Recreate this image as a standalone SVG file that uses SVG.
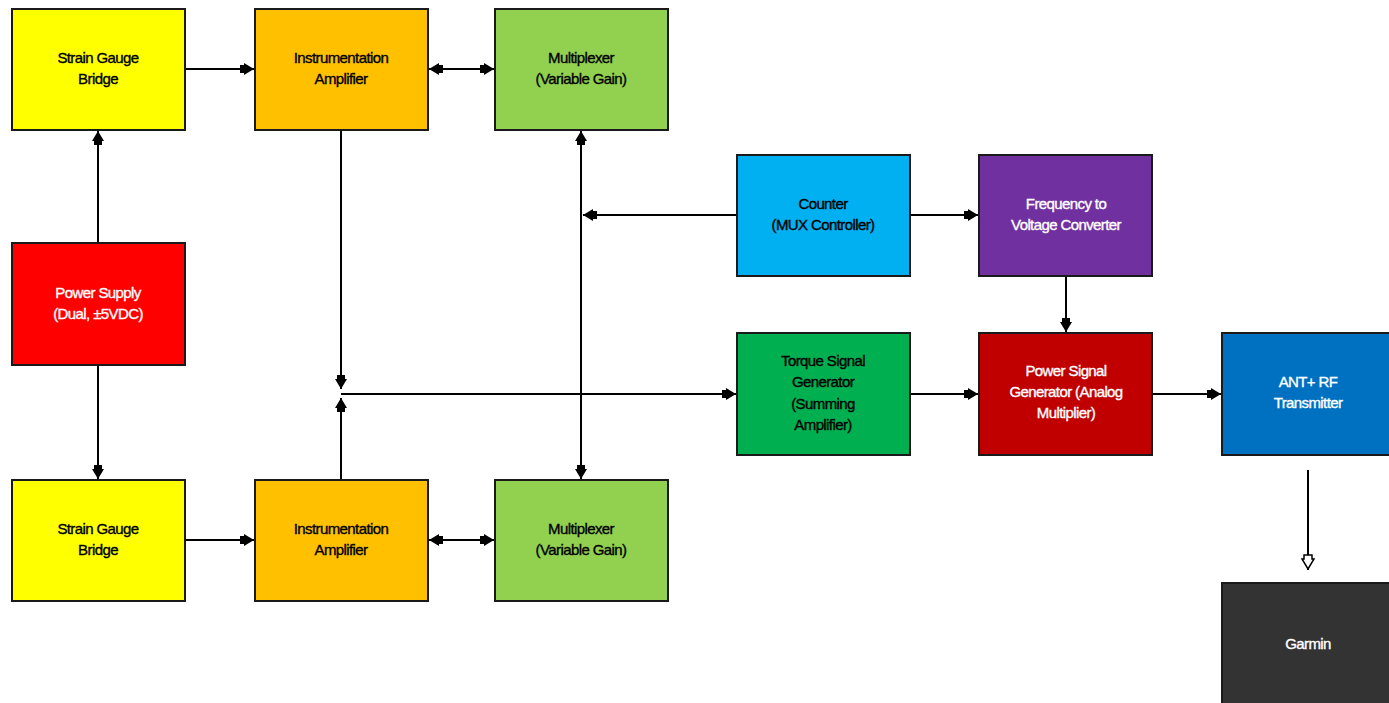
<svg xmlns="http://www.w3.org/2000/svg" width="1389" height="703" viewBox="0 0 1389 703">
<style>
.box{stroke:#1a1a1a;stroke-width:2}
.t{font-family:"Liberation Sans",Arial,sans-serif;font-size:15px;text-anchor:middle;letter-spacing:-0.6px;stroke-width:0.35px}
.dk{fill:#000;stroke:#000}
.wt{fill:#fff;stroke:#fff}
.c{stroke:#000;stroke-width:2;fill:none}
</style>
<defs>
<marker id="a" viewBox="0 0 14 12" refX="14" refY="6" markerWidth="14" markerHeight="12" markerUnits="userSpaceOnUse" orient="auto-start-reverse">
<path d="M0,2 L4,2 L4,0 L14,6 L4,12 L4,10 L0,10 Z" fill="#000"/>
</marker>
<marker id="h" viewBox="0 0 16 14" refX="16" refY="7" markerWidth="16" markerHeight="14" markerUnits="userSpaceOnUse" orient="auto">
<path d="M1,3 L5,3 L5,1 L15,7 L5,13 L5,11 L1,11 Z" fill="#fff" stroke="#000" stroke-width="1.5"/>
</marker>
</defs>
<rect width="1389" height="703" fill="#fff"/>
<g id="connectors">
<line class="c" x1="186" y1="69" x2="254" y2="69" marker-end="url(#a)"/>
<line class="c" x1="429" y1="69" x2="494" y2="69" marker-start="url(#a)" marker-end="url(#a)"/>
<line class="c" x1="98" y1="243" x2="98" y2="131" marker-end="url(#a)"/>
<line class="c" x1="98" y1="366" x2="98" y2="479" marker-end="url(#a)"/>
<line class="c" x1="341" y1="131" x2="341" y2="389" marker-end="url(#a)"/>
<line class="c" x1="341" y1="480" x2="341" y2="398" marker-end="url(#a)"/>
<line class="c" x1="341" y1="394" x2="736" y2="394" marker-end="url(#a)"/>
<line class="c" x1="581" y1="131" x2="581" y2="479" marker-start="url(#a)" marker-end="url(#a)"/>
<line class="c" x1="737" y1="215" x2="583" y2="215" marker-end="url(#a)"/>
<line class="c" x1="911" y1="215" x2="978" y2="215" marker-end="url(#a)"/>
<line class="c" x1="1066" y1="277" x2="1066" y2="332" marker-end="url(#a)"/>
<line class="c" x1="911" y1="394" x2="978" y2="394" marker-end="url(#a)"/>
<line class="c" x1="1153" y1="394" x2="1221" y2="394" marker-end="url(#a)"/>
<line class="c" x1="1308" y1="470" x2="1308" y2="570" marker-end="url(#h)"/>
<line class="c" x1="186" y1="540" x2="254" y2="540" marker-end="url(#a)"/>
<line class="c" x1="429" y1="540" x2="494" y2="540" marker-start="url(#a)" marker-end="url(#a)"/>
</g>
<g id="sgb1"><rect class="box" x="12" y="9" width="173" height="121" fill="#ffff00"/><text class="t dk" x="98" y="63">Strain Gauge</text><text class="t dk" x="98" y="84">Bridge</text></g>
<g id="ia1"><rect class="box" x="255" y="9" width="173" height="121" fill="#ffc000"/><text class="t dk" x="341" y="63">Instrumentation</text><text class="t dk" x="341" y="84">Amplifier</text></g>
<g id="mux1"><rect class="box" x="495" y="9" width="173" height="121" fill="#92d050"/><text class="t dk" x="581" y="63">Multiplexer</text><text class="t dk" x="581" y="84">(Variable Gain)</text></g>
<g id="ps"><rect class="box" x="12" y="243" width="173" height="122" fill="#ff0000"/><text class="t wt" x="98" y="298">Power Supply</text><text class="t wt" x="98" y="319">(Dual, ±5VDC)</text></g>
<g id="sgb2"><rect class="box" x="12" y="480" width="173" height="121" fill="#ffff00"/><text class="t dk" x="98" y="534">Strain Gauge</text><text class="t dk" x="98" y="555">Bridge</text></g>
<g id="ia2"><rect class="box" x="255" y="480" width="173" height="121" fill="#ffc000"/><text class="t dk" x="341" y="534">Instrumentation</text><text class="t dk" x="341" y="555">Amplifier</text></g>
<g id="mux2"><rect class="box" x="495" y="480" width="173" height="121" fill="#92d050"/><text class="t dk" x="581" y="534">Multiplexer</text><text class="t dk" x="581" y="555">(Variable Gain)</text></g>
<g id="counter"><rect class="box" x="737" y="155" width="173" height="121" fill="#00b0f0"/><text class="t dk" x="823" y="209">Counter</text><text class="t dk" x="823" y="230">(MUX Controller)</text></g>
<g id="fvc"><rect class="box" x="979" y="155" width="173" height="121" fill="#7030a0"/><text class="t wt" x="1066" y="209">Frequency to</text><text class="t wt" x="1066" y="230">Voltage Converter</text></g>
<g id="torque"><rect class="box" x="737" y="333" width="173" height="122" fill="#00b050"/><text class="t dk" x="823" y="366">Torque Signal</text><text class="t dk" x="823" y="387">Generator</text><text class="t dk" x="823" y="409">(Summing</text><text class="t dk" x="823" y="430">Amplifier)</text></g>
<g id="psg"><rect class="box" x="979" y="333" width="173" height="122" fill="#c00000"/><text class="t wt" x="1066" y="376">Power Signal</text><text class="t wt" x="1066" y="397">Generator (Analog</text><text class="t wt" x="1066" y="418">Multiplier)</text></g>
<g id="ant"><rect class="box" x="1222" y="333" width="173" height="122" fill="#0070c0"/><text class="t wt" x="1308" y="387">ANT+ RF</text><text class="t wt" x="1308" y="408">Transmitter</text></g>
<g id="garmin"><rect class="box" x="1222" y="583" width="173" height="130" fill="#333333"/><text class="t wt" x="1308" y="649">Garmin</text></g>
</svg>
